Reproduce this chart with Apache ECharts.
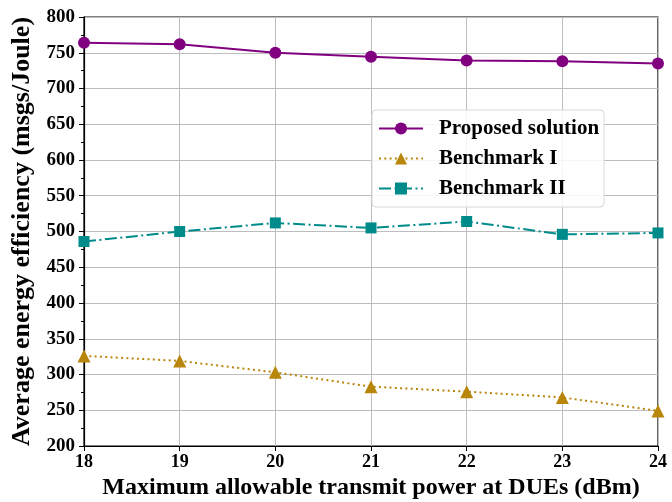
<!DOCTYPE html>
<html>
<head>
<meta charset="utf-8">
<script src="https://cdn.jsdelivr.net/npm/echarts@6/dist/echarts.min.js"></script>
<style>
  html, body { margin: 0; padding: 0; background: #fff; }
  #chart { width: 672px; height: 502px; }
</style>
</head>
<body>
<div id="chart"></div>
<script>
// Maximum allowable transmit power at DUEs (dBm)
const powerLevels = [18, 19, 20, 21, 22, 23, 24];
// Average energy efficiency (msgs/Joule) per scheme
const proposed = [764, 762, 750, 744.5, 739, 738, 735];
const benchmark1 = [326, 319, 303, 283, 276, 268, 249];
const benchmark2 = [486, 500, 512, 505, 514, 496, 498];

const seriesNames = ['Proposed solution', 'Benchmark I', 'Benchmark II'];

const FONT = '"Liberation Serif", "DejaVu Serif", serif';
const toPairs = vals => powerLevels.map((x, i) => [x, vals[i]]);

const chart = echarts.init(document.getElementById('chart'));
chart.setOption({
  animation: false,
  backgroundColor: '#fff',
  grid: {
    left: 84, right: 14, top: 17, bottom: 56,
    outerBoundsMode: 'none',
    containLabel: false,
    show: true, borderColor: '#000', borderWidth: 1.2, backgroundColor: 'transparent'
  },
  legend: {
    orient: 'vertical',
    left: 372, top: 110,
    padding: [8, 5, 8, 6],
    itemGap: 9,
    itemWidth: 44, itemHeight: 15,
    backgroundColor: 'rgba(255,255,255,0.85)',
    borderColor: '#d8d8d8', borderWidth: 1, borderRadius: 4,
    textStyle: { fontFamily: FONT, fontWeight: 'bold', fontSize: 21, color: '#000', padding: [0, 0, 0, 11] },
    data: seriesNames
  },
  xAxis: {
    type: 'value', min: 18, max: 24, interval: 1,
    name: 'Maximum allowable transmit power at DUEs (dBm)',
    nameLocation: 'middle', nameGap: 26,
    nameTextStyle: { fontFamily: FONT, fontWeight: 'bold', fontSize: 24, color: '#000' },
    axisLine: { lineStyle: { color: '#000', width: 1.2 } },
    axisTick: { length: 5, lineStyle: { color: '#000' } },
    axisLabel: { fontFamily: FONT, fontWeight: 'bold', fontSize: 18, color: '#000', margin: 7 },
    splitLine: { lineStyle: { color: '#bdbdbd', width: 1 } }
  },
  yAxis: {
    type: 'value', min: 200, max: 800, interval: 50,
    name: 'Average energy efficiency (msgs/Joule)',
    nameLocation: 'middle', nameGap: 46,
    nameTextStyle: { fontFamily: FONT, fontWeight: 'bold', fontSize: 26, color: '#000' },
    axisLine: { show: true, lineStyle: { color: '#000', width: 1.2 } },
    axisTick: { show: true, length: 5, lineStyle: { color: '#000' } },
    minorTick: { show: true, splitNumber: 2, length: 3, lineStyle: { color: '#000' } },
    axisLabel: { fontFamily: FONT, fontWeight: 'bold', fontSize: 19, color: '#000', margin: 9 },
    splitLine: { lineStyle: { color: '#bdbdbd', width: 1 } }
  },
  series: [
    {
      name: seriesNames[0], type: 'line', data: toPairs(proposed),
      symbol: 'circle', symbolSize: 12,
      itemStyle: { color: '#800080' },
      lineStyle: { color: '#800080', width: 2 }
    },
    {
      name: seriesNames[1], type: 'line', data: toPairs(benchmark1),
      symbol: 'triangle', symbolSize: 13,
      itemStyle: { color: '#b8860b' },
      lineStyle: { color: '#b8860b', width: 2, type: [2, 3.3] }
    },
    {
      name: seriesNames[2], type: 'line', data: toPairs(benchmark2),
      symbol: 'rect', symbolSize: 11,
      itemStyle: { color: '#008b8b' },
      lineStyle: { color: '#008b8b', width: 2, type: [12, 3.5, 2, 3.5] }
    }
  ]
});
</script>
</body>
</html>
